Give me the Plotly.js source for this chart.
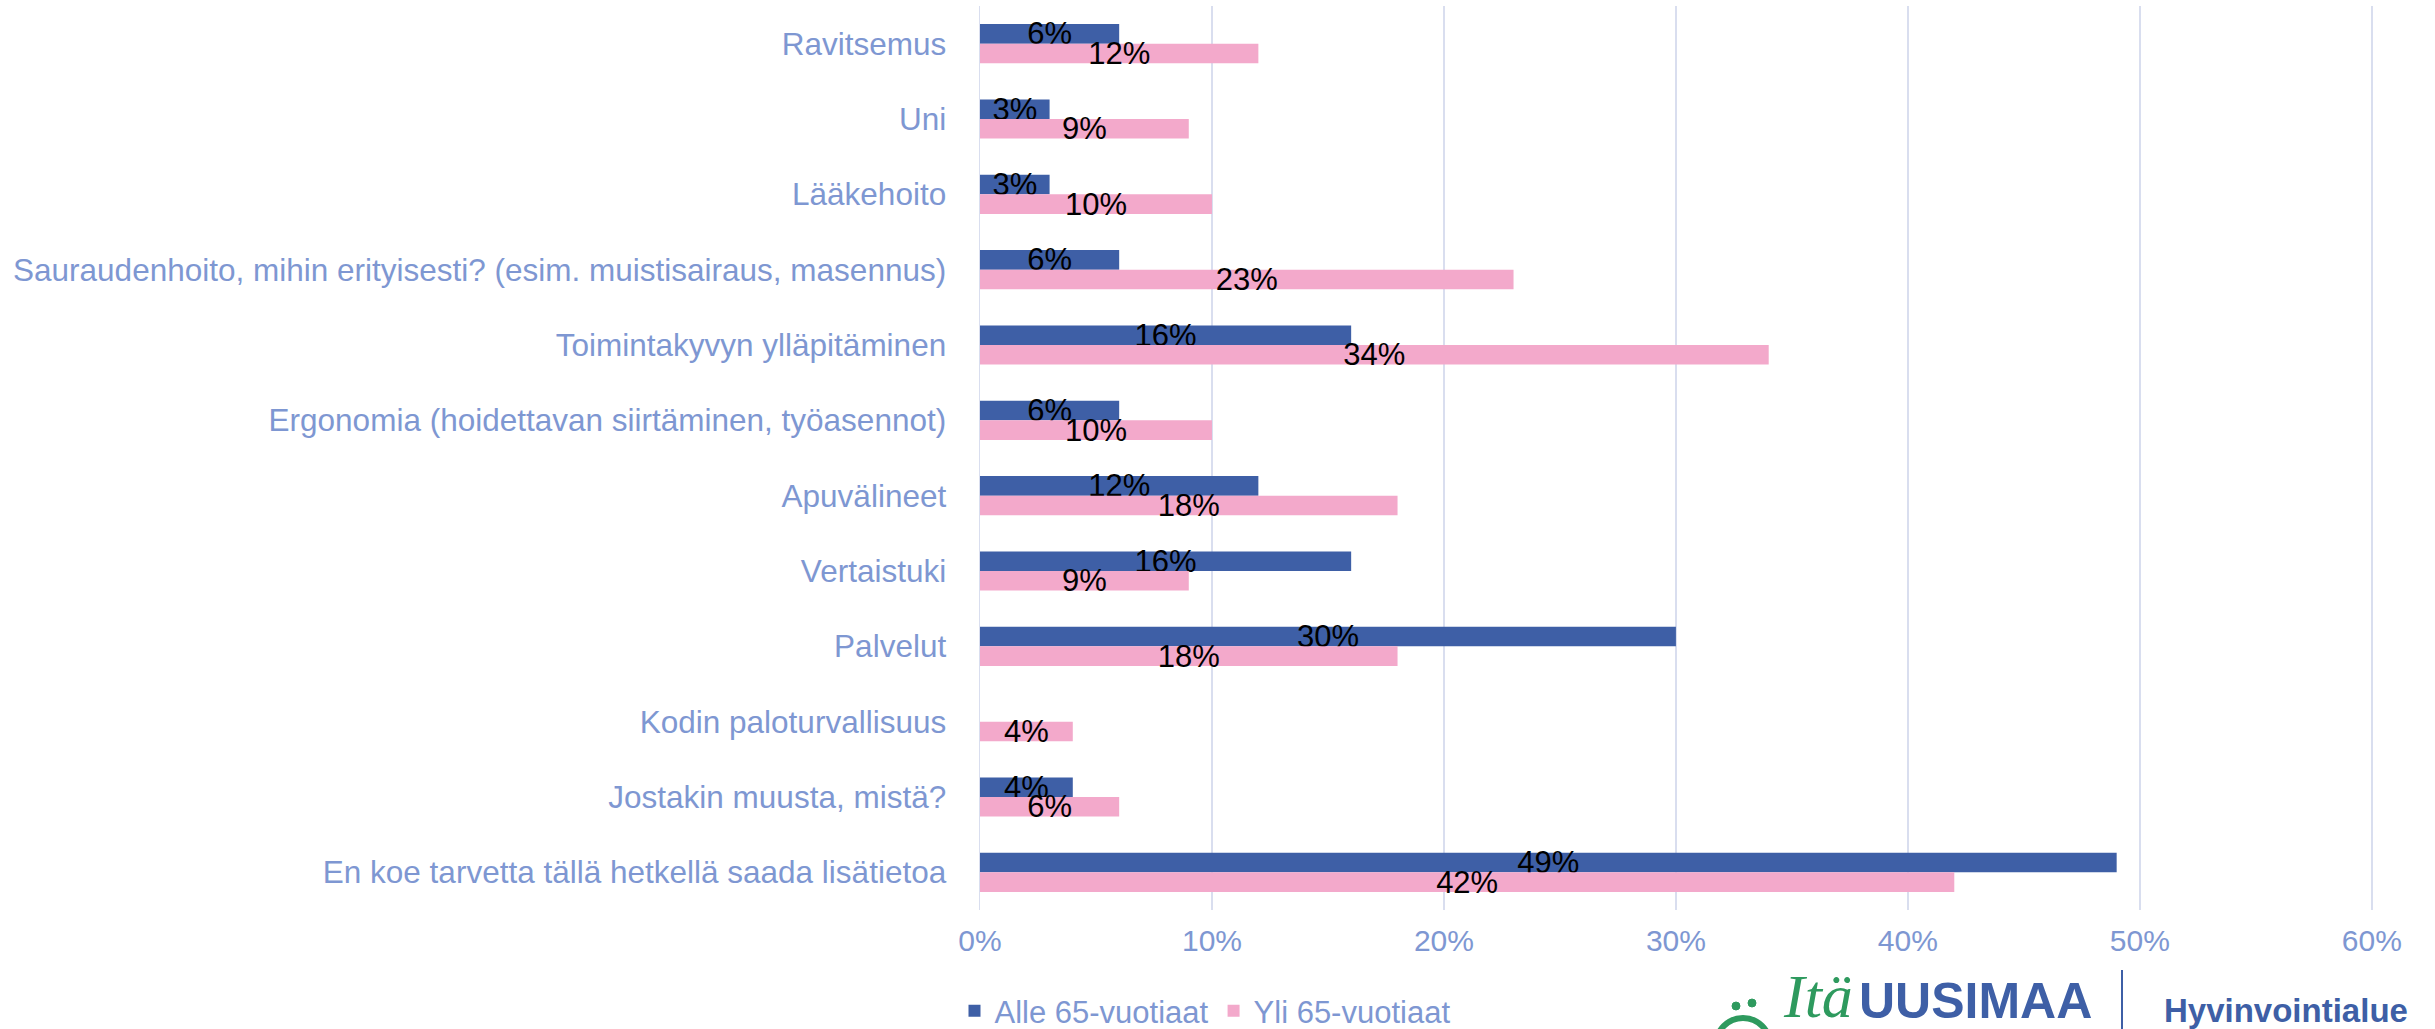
<!DOCTYPE html>
<html>
<head>
<meta charset="utf-8">
<script src="https://cdn.plot.ly/plotly-3.0.1.min.js"></script>
<style>html,body{margin:0;padding:0;background:#fff;}#chart{width:2435px;height:1029px;}</style>
</head>
<body>
<div id="chart"></div>
<script>
var categories = [
  "Ravitsemus",
  "Uni",
  "Lääkehoito",
  "Sauraudenhoito, mihin erityisesti? (esim. muistisairaus, masennus)",
  "Toimintakyvyn ylläpitäminen",
  "Ergonomia (hoidettavan siirtäminen, työasennot)",
  "Apuvälineet",
  "Vertaistuki",
  "Palvelut",
  "Kodin paloturvallisuus",
  "Jostakin muusta, mistä?",
  "En koe tarvetta tällä hetkellä saada lisätietoa"
];
var seriesNames = ["Alle 65-vuotiaat", "Yli 65-vuotiaat"];
var alle65 = [6, 3, 3, 6, 16, 6, 12, 16, 30, 0, 4, 49];
var yli65 = [12, 9, 10, 23, 34, 10, 18, 9, 18, 4, 6, 42];
var xTickValues = [0, 10, 20, 30, 40, 50, 60];
var xTickLabels = ["0%", "10%", "20%", "30%", "40%", "50%", "60%"];

var labelColor = "#7E97D2";
var blue = "#3E5FA6";
var pink = "#F3A9CB";
var fontFam = "Liberation Sans, Arial, sans-serif";

function labels(arr) { return arr.map(function (v) { return v > 0 ? v + "%" : ""; }); }

var common = {
  type: "bar",
  orientation: "h",
  y: categories,
  textposition: "inside",
  insidetextanchor: "middle",
  constraintext: "none",
  textangle: 0,
  cliponaxis: false,
  textfont: { family: fontFam, size: 31, color: "#000000" },
  hoverinfo: "skip"
};

var t1 = Object.assign({}, common, {
  name: seriesNames[0], x: alle65, text: labels(alle65),
  marker: { color: blue, line: { width: 0 } }
});
var t2 = Object.assign({}, common, {
  name: seriesNames[1], x: yli65, text: labels(yli65),
  marker: { color: pink, line: { width: 0 } }
});

var L = 980, R = 2373, T = 6, B = 910;
function px(X) { return (X - L) / (R - L); }
function py(Y) { return (B - Y) / (B - T); }

var layout = {
  width: 2435, height: 1029,
  margin: { l: L, r: 2435 - R, t: T, b: 1029 - B, pad: 0, autoexpand: false },
  paper_bgcolor: "#ffffff", plot_bgcolor: "#ffffff",
  barmode: "group", bargap: 0.48, bargroupgap: 0,
  font: { family: fontFam, color: labelColor },
  xaxis: {
    range: [0, 60.05], tickmode: "array", tickvals: xTickValues, ticktext: xTickLabels,
    showgrid: true, gridcolor: "#D9DEEF", gridwidth: 1.5,
    zeroline: false, showline: false, ticks: "",
    tickfont: { family: fontFam, size: 30, color: labelColor },
    ticklabelstandoff: 10, fixedrange: true, automargin: false
  },
  yaxis: {
    type: "category", autorange: "reversed",
    showgrid: false, zeroline: false,
    showline: true, linecolor: "#D9DEEF", linewidth: 1.5,
    ticks: "", ticklabelstandoff: 26,
    tickfont: { family: fontFam, size: 31.5, color: labelColor },
    fixedrange: true, automargin: false
  },
  showlegend: true,
  legend: {
    orientation: "h", x: px(1205), xanchor: "center",
    y: py(1011), yanchor: "middle",
    font: { family: fontFam, size: 31, color: labelColor },
    traceorder: "normal", bgcolor: "rgba(0,0,0,0)"
  },
  annotations: [
    { xref: "paper", yref: "paper", x: px(1818), y: py(996), xanchor: "center", yanchor: "middle",
      text: "<i>Itä</i>", showarrow: false,
      font: { family: "Liberation Serif, DejaVu Serif, serif", size: 62, color: "#2E9A5E" } },
    { xref: "paper", yref: "paper", x: px(1975), y: py(1001), xanchor: "center", yanchor: "middle",
      text: "<b>UUSIMAA</b>", showarrow: false,
      font: { family: "Liberation Sans, Arial, sans-serif", size: 50, color: blue } },
    { xref: "paper", yref: "paper", x: px(2286), y: py(1010), xanchor: "center", yanchor: "middle",
      text: "<b>Hyvinvointialue</b>", showarrow: false,
      font: { family: "Liberation Sans, Arial, sans-serif", size: 33, color: blue } }
  ],
  shapes: [
    { type: "line", xref: "paper", yref: "paper", x0: px(2122), x1: px(2122), y0: py(970), y1: py(1029),
      line: { color: blue, width: 2 } },
    { type: "circle", xref: "paper", yref: "paper", x0: px(1716), x1: px(1770), y0: py(1072), y1: py(1018),
      line: { color: "#2E9A5E", width: 6 } },
    { type: "circle", xref: "paper", yref: "paper", x0: px(1732), x1: px(1740), y0: py(1010), y1: py(1002),
      fillcolor: "#2E9A5E", line: { color: "#2E9A5E", width: 1 } },
    { type: "circle", xref: "paper", yref: "paper", x0: px(1748), x1: px(1756), y0: py(1007), y1: py(999),
      fillcolor: "#2E9A5E", line: { color: "#2E9A5E", width: 1 } }
  ]
};

Plotly.newPlot("chart", [t1, t2], layout, { staticPlot: true, displayModeBar: false });
</script>
</body>
</html>
